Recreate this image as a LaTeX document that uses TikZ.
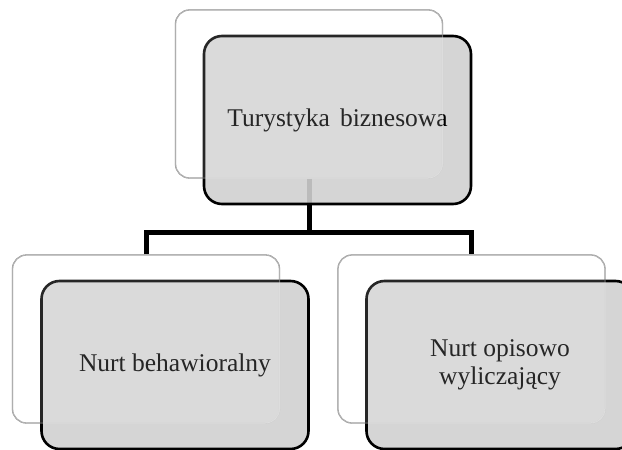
\documentclass[tikz,border=0pt]{standalone}
\usepackage{fontspec}
\setmainfont{Liberation Serif}
\definecolor{boxgray}{RGB}{208,208,208}
\definecolor{backline}{RGB}{125,125,125}
\tikzset{
  backbox/.style={draw=backline,line width=1.3pt,fill=white,rounded corners=14pt,
    minimum width=267pt,minimum height=168pt,inner sep=0pt},
  frontbox/.style={draw=black,line width=2.6pt,fill=boxgray,fill opacity=0.9,text opacity=1,
    text=black,rounded corners=18pt,minimum width=267pt,minimum height=168pt,inner sep=0pt,
    align=center,font=\fontsize{25.5}{28}\selectfont},
  glaze/.style={fill=white,fill opacity=0.15,draw=white,draw opacity=0.35,line width=1pt,
    rounded corners=14pt,minimum width=267pt,minimum height=168pt,inner sep=0pt},
  conn/.style={draw=black,line width=5pt}
}
\begin{document}
\begin{tikzpicture}[x=1pt,y=-1pt]
      \useasboundingbox (0,0) rectangle (622,450) ;
      \clip (0,0) rectangle (622,450) ;
      % back boxes
      \node[backbox] (topback) at (309,94) {} ;
      \node[backbox] (leftback) at (146,339) {} ;
      \node[backbox] (rightback) at (471.5,339) {} ;
      % connectors
      \coordinate (bus) at (309,232) ;
      \draw[conn] (topback.south) -- (bus) ;
      \draw[conn] (leftback.north) |- (bus) -| (rightback.north) ;
      % front boxes
      \node[frontbox] (top) at (337.5,120) {Turystyka\hspace{.15em} biznesowa} ;
      \node[frontbox] (left) at (175,365) {Nurt behawioralny} ;
      \node[frontbox] (right) at (500,365) {Nurt opisowo\\wyliczający} ;
      \node[glaze] at (topback) {} ;
      \node[glaze] at (leftback) {} ;
      \node[glaze] at (rightback) {} ;
    \end{tikzpicture}
\end{document}
